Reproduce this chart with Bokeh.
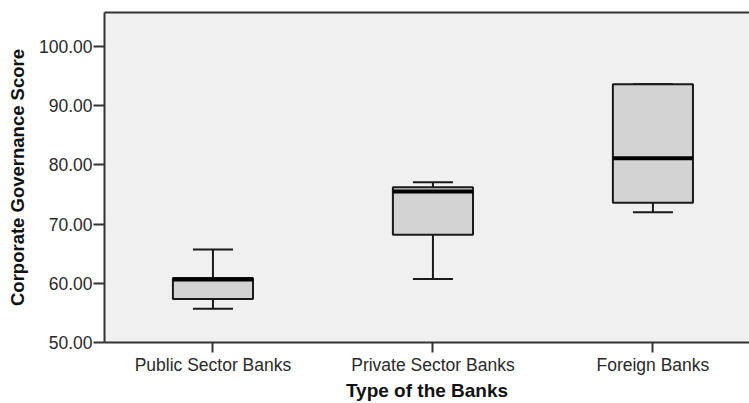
from bokeh.plotting import figure
from bokeh.models import Range1d, FixedTicker, LinearAxis, NumeralTickFormatter
from bokeh.embed import file_html
from bokeh.resources import INLINE

categories = ["Public Sector Banks", "Private Sector Banks", "Foreign Banks"]
whisker_low = [55.7, 60.7, 72.0]
q1 = [57.35, 68.2, 73.6]
median = [60.65, 75.5, 81.1]
q3 = [60.9, 76.2, 93.6]
whisker_high = [65.7, 77.05, 93.6]
y_ticks = [50, 60, 70, 80, 90, 100]

xs = list(range(len(categories)))
box_w = 0.364
cap_w = 0.182

p = figure(width=749, height=403, output_backend="svg", toolbar_location=None,
           x_range=Range1d(-0.493, 2.439), y_range=Range1d(50, 105.7),
           min_border_left=104, min_border_top=12, min_border_bottom=60,
           min_border_right=0)
p.background_fill_color = "#f0f0f0"
p.border_fill_color = "white"
p.outline_line_color = None
p.xgrid.visible = False
p.ygrid.visible = False

font = "Liberation Sans"
axis_col = "#333333"

# y axis
p.yaxis.ticker = FixedTicker(ticks=y_ticks)
p.yaxis.formatter = NumeralTickFormatter(format="0.00")
p.yaxis.axis_label = "Corporate Governance Score"
p.yaxis.axis_label_text_font = font
p.yaxis.axis_label_text_font_style = "bold"
p.yaxis.axis_label_text_font_size = "18.5px"
p.yaxis.axis_label_text_color = "#111111"
p.yaxis.axis_label_standoff = 8
p.yaxis.major_label_text_font = font
p.yaxis.major_label_text_font_size = "17.5px"
p.yaxis.major_label_text_color = "#2a2a2a"
p.yaxis.major_label_standoff = 1
p.yaxis.major_tick_out = 11
p.yaxis.major_tick_in = 0
p.yaxis.minor_tick_out = 0
p.yaxis.minor_tick_in = 0
p.yaxis.axis_line_width = 2
p.yaxis.axis_line_color = axis_col
p.yaxis.major_tick_line_width = 2
p.yaxis.major_tick_line_color = axis_col

# x axis
p.xaxis.ticker = FixedTicker(ticks=xs)
p.xaxis.major_label_overrides = {i: c for i, c in zip(xs, categories)}
p.xaxis.axis_label = "Type of the Banks"
p.xaxis.axis_label_text_font = font
p.xaxis.axis_label_text_font_style = "bold"
p.xaxis.axis_label_text_font_size = "19px"
p.xaxis.axis_label_text_color = "#111111"
p.xaxis.axis_label_standoff = 2
p.xaxis.major_label_text_font = font
p.xaxis.major_label_text_font_size = "17.5px"
p.xaxis.major_label_text_color = "#2a2a2a"
p.xaxis.major_label_standoff = 2
p.xaxis.major_tick_out = 10
p.xaxis.major_tick_in = 0
p.xaxis.minor_tick_out = 0
p.xaxis.minor_tick_in = 0
p.xaxis.axis_line_width = 2
p.xaxis.axis_line_color = axis_col
p.xaxis.major_tick_line_width = 2
p.xaxis.major_tick_line_color = axis_col

# top border
top = LinearAxis(major_tick_out=0, major_tick_in=0, minor_tick_out=0, minor_tick_in=0,
                 major_label_text_font_size="0px", axis_line_width=2,
                 axis_line_color=axis_col)
top.ticker = FixedTicker(ticks=[])
p.add_layout(top, "above")

line_col = "#1a1a1a"
# whisker stems
p.segment(x0=xs, y0=q3, x1=xs, y1=whisker_high, line_color=line_col, line_width=2)
p.segment(x0=xs, y0=q1, x1=xs, y1=whisker_low, line_color=line_col, line_width=2)
# caps
p.segment(x0=[x - cap_w / 2 for x in xs], y0=whisker_high,
          x1=[x + cap_w / 2 for x in xs], y1=whisker_high, line_color=line_col, line_width=2)
p.segment(x0=[x - cap_w / 2 for x in xs], y0=whisker_low,
          x1=[x + cap_w / 2 for x in xs], y1=whisker_low, line_color=line_col, line_width=2)
# boxes
p.vbar(x=xs, width=box_w, bottom=q1, top=q3, fill_color="#d3d3d3",
       line_color=line_col, line_width=2)
# medians
p.segment(x0=[x - box_w / 2 for x in xs], y0=median,
          x1=[x + box_w / 2 for x in xs], y1=median, line_color="black", line_width=4)

open("out.html", "w").write(file_html(p, INLINE))
